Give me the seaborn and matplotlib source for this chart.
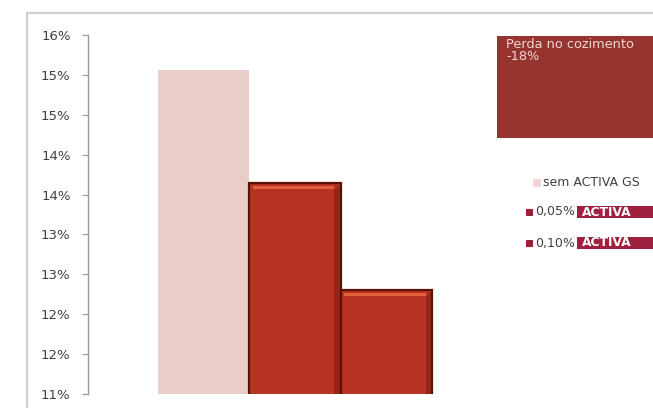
import matplotlib
matplotlib.use("Agg")
import matplotlib.pyplot as plt
import matplotlib.ticker as mticker
from matplotlib.patches import Rectangle
import pandas as pd
import seaborn as sns

# data
series = ["sem ACTIVA GS", "0,05% ACTIVA", "0,10% ACTIVA"]
values = [0.1506, 0.1364, 0.1230]
category = ["Perda"]
y_ticks = [0.110, 0.115, 0.120, 0.125, 0.130, 0.135, 0.140, 0.145, 0.150, 0.155]
note_lines = ["Perda no cozimento", "-18%"]

df = pd.DataFrame({"cat": category * 3, "serie": series, "valor": values})
palette = {series[0]: "#e8cdc9", series[1]: "#b73222", series[2]: "#b73222"}

sns.set_theme(style="white")
plt.rcParams["font.family"] = ["DejaVu Sans"]

fig = plt.figure(figsize=(6.53, 4.08), dpi=100)
fig.patch.set_facecolor("white")
ax = fig.add_axes([88 / 653, 14 / 408, (502 - 88) / 653, (394 - 35) / 408])

sns.barplot(data=df, x="cat", y="valor", hue="serie", palette=palette,
            width=0.662, dodge=True, legend=False, ax=ax, saturation=1)


def excel_pct(v, pos):
    n = int(round(v * 1000))
    return f"{(n + 5) // 10}%"


ax.set_ylim(y_ticks[0], y_ticks[-1])
ax.set_xlim(-0.5, 0.5)
ax.set_yticks(y_ticks)
ax.yaxis.set_major_formatter(mticker.FuncFormatter(excel_pct))
ax.set_xticks([])
ax.set_xlabel("")
ax.set_ylabel("")
for s in ["top", "right", "bottom"]:
    ax.spines[s].set_visible(False)
ax.spines["left"].set_color("#9a9a9a")
ax.spines["left"].set_linewidth(1.0)
ax.tick_params(axis="y", which="both", left=True, length=4.5, width=0.9, color="#9a9a9a",
               pad=8, labelsize=9.5, labelcolor="#404040")
ax.patch.set_alpha(0)

# style bars (bevel look for the red ones)
span = y_ticks[-1] - y_ticks[0]
patches = [p for p in ax.patches if isinstance(p, Rectangle)]
for i, p in enumerate(patches):
    if i == 0:
        p.set_edgecolor("none")
        continue
    p.set_edgecolor("#5a1208")
    p.set_linewidth(1.6)
    x0, y0 = p.get_x(), p.get_y()
    w, h = p.get_width(), p.get_height()
    z = p.get_zorder() + 0.1
    ax.add_patch(Rectangle((x0 + w * 0.04, y0 + h - span * 0.016), w * 0.92, span * 0.009,
                           facecolor="#e4603a", edgecolor="none", zorder=z))
    ax.add_patch(Rectangle((x0 + w * 0.93, y0), w * 0.06, h - span * 0.008,
                           facecolor="#7a1c10", edgecolor="none", alpha=0.55, zorder=z))
    ax.add_patch(Rectangle((x0, y0), w, span * 0.008,
                           facecolor="#6e180c", edgecolor="none", alpha=0.6, zorder=z))

# chart border
fig.add_artist(Rectangle((27 / 653, -0.1), 1.2, (408 - 13) / 408 + 0.1,
                         transform=fig.transFigure, facecolor="none",
                         edgecolor="#cfcfcf", linewidth=1.5))

# annotation box
fig.add_artist(Rectangle((497 / 653, (408 - 138) / 408), 0.4, 102 / 408,
                         transform=fig.transFigure, facecolor="#963530", edgecolor="none"))
fig.text(506 / 653, (408 - 45) / 408, note_lines[0], color="#f1d6d2",
         fontsize=9.3, va="center", ha="left")
fig.text(506 / 653, (408 - 57) / 408, note_lines[1], color="#f1d6d2",
         fontsize=9.3, va="center", ha="left")

# legend (manual)
leg_y = [183, 212, 243]
fig.add_artist(Rectangle((533 / 653, (408 - leg_y[0] - 4) / 408), 8 / 653, 8 / 408,
                         transform=fig.transFigure, facecolor="#f2d3d3", edgecolor="none"))
fig.text(543 / 653, (408 - leg_y[0]) / 408, series[0], fontsize=9, color="#404040",
         va="center", ha="left")
for yy, s in zip(leg_y[1:], series[1:]):
    pct, name = s.split(" ")
    fig.add_artist(Rectangle((526 / 653, (408 - yy - 3.5) / 408), 7 / 653, 7 / 408,
                             transform=fig.transFigure, facecolor="#9e2235", edgecolor="none"))
    fig.text(535 / 653, (408 - yy) / 408, pct, fontsize=9, color="#404040",
             va="center", ha="left")
    fig.add_artist(Rectangle((577 / 653, (408 - yy - 6) / 408), 0.2, 12 / 408,
                             transform=fig.transFigure, facecolor="#9e2240", edgecolor="none"))
    fig.text(582 / 653, (408 - yy) / 408, name, fontsize=8.8, color="white",
             fontweight="bold", va="center", ha="left")

fig.savefig("out.png", dpi=100)
